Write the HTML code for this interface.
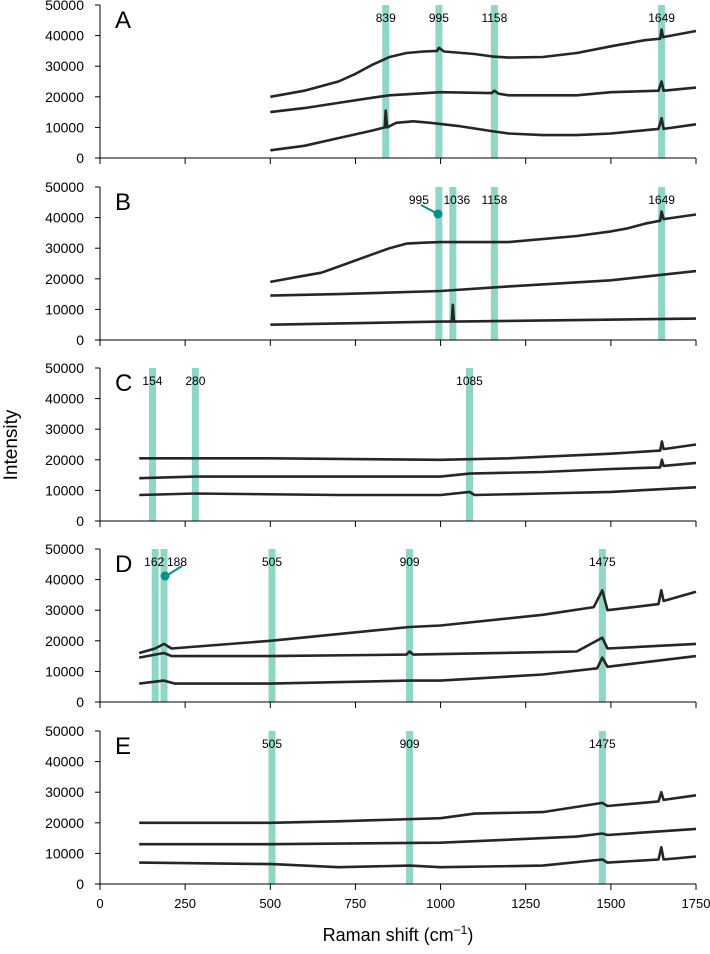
<!DOCTYPE html>
<html><head><meta charset="utf-8"><style>
body{margin:0;background:#fff}
svg text{font-family:"Liberation Sans",sans-serif;fill:#000}
</style></head><body>
<svg id="chart" width="710" height="949" xmlns="http://www.w3.org/2000/svg"></svg>
<script>
const xTicks=[0,250,500,750,1000,1250,1500,1750];
const yTicks=[0,10000,20000,30000,40000,50000];
const panelLetters=["A","B","C","D","E"];
const bandsA=[839,995,1158,1649];
const bandsB=[995,1036,1158,1649];
const bandsC=[154,280,1085];
const bandsD=[162,188,505,909,1475];
const bandsE=[505,909,1475];
const A1x=[500,600,700,750,800,850,900,950,990,995,1010,1100,1150,1200,1300,1400,1500,1600,1645,1649,1653,1750];
const A1y=[20000,22000,25000,27500,30500,33000,34300,34800,35000,36000,34800,34000,33200,32800,33000,34300,36500,38500,39000,42000,39500,41500];
const A2x=[500,600,700,800,850,1000,1150,1158,1170,1200,1400,1500,1640,1649,1655,1750];
const A2y=[15000,16300,18000,19700,20500,21500,21200,22000,21000,20500,20500,21500,22000,25000,22000,23000];
const A3x=[500,600,700,800,836,839,843,870,920,970,1050,1150,1200,1300,1400,1500,1640,1649,1655,1750];
const A3y=[2500,4000,6500,9000,10000,15500,10000,11500,12000,11500,10500,8800,8000,7500,7500,8000,9500,13000,9500,11000];
const B1x=[500,600,650,700,800,850,900,950,1000,1200,1400,1500,1550,1600,1645,1649,1655,1750];
const B1y=[19000,21000,22000,24000,28000,30000,31500,31800,32000,32000,34000,35500,36500,38000,39000,42000,39500,41000];
const B2x=[500,700,1000,1200,1500,1750];
const B2y=[14500,15000,16000,17500,19500,22500];
const B3x=[500,1000,1033,1036,1039,1750];
const B3y=[5000,6000,6000,11500,6000,7000];
const C1x=[115,500,1000,1200,1500,1645,1650,1655,1750];
const C1y=[20500,20500,20000,20500,22000,23000,26000,23500,25000];
const C2x=[115,280,1000,1085,1300,1500,1645,1650,1655,1750];
const C2y=[14000,14500,14500,15500,16000,17000,17500,20000,18000,19000];
const C3x=[115,280,700,1000,1085,1100,1300,1500,1750];
const C3y=[8500,9000,8500,8500,9500,8500,9000,9500,11000];
const D1x=[115,162,188,210,500,909,1000,1300,1450,1475,1490,1640,1648,1655,1750];
const D1y=[16000,17500,19000,17500,20000,24500,25000,28500,31000,36500,30000,32000,36500,33000,36000];
const D2x=[115,162,188,210,500,900,909,920,1400,1475,1490,1750];
const D2y=[14500,15500,16000,15000,15000,15500,16500,15500,16500,21000,17500,19000];
const D3x=[115,188,220,500,909,1000,1300,1460,1475,1490,1750];
const D3y=[6000,7000,6000,6000,7000,7000,9000,11000,14500,11500,15000];
const E1x=[115,500,700,1000,1100,1300,1475,1490,1640,1648,1655,1750];
const E1y=[20000,20000,20500,21500,23000,23500,26500,25500,27000,30000,27500,29000];
const E2x=[115,500,1000,1400,1475,1490,1750];
const E2y=[13000,13000,13500,15500,16500,16000,18000];
const E3x=[115,505,700,909,1000,1300,1475,1490,1640,1648,1655,1750];
const E3y=[7000,6500,5500,6000,5500,6000,8000,7000,8000,12000,8000,9000];
const panels=[
 {bands:bandsA,traces:[[A1x,A1y],[A2x,A2y],[A3x,A3y]]},
 {bands:bandsB,traces:[[B1x,B1y],[B2x,B2y],[B3x,B3y]]},
 {bands:bandsC,traces:[[C1x,C1y],[C2x,C2y],[C3x,C3y]]},
 {bands:bandsD,traces:[[D1x,D1y],[D2x,D2y],[D3x,D3y]]},
 {bands:bandsE,traces:[[E1x,E1y],[E2x,E2y],[E3x,E3y]]}];
const tops=[5,187,368,549,731];
const PH=153;
const svg=document.getElementById('chart');
const NS='http://www.w3.org/2000/svg';
function mk(t,a,p){const e=document.createElementNS(NS,t);for(const k in a)e.setAttribute(k,a[k]);(p||svg).appendChild(e);return e;}
const xs=v=>100+v*(596/1750);
panels.forEach((p,i)=>{
 const top=tops[i];
 const ys=v=>top+PH-v*(PH/50000);
 const g=mk('g',{});
 
 
 p.bands.forEach(b=>{
  const r=mk('rect',{x:xs(b)-3.5,y:ys(50000),width:7,height:PH,fill:'#8ed6c6'},g);
  
  
 });
 p.bands.forEach(b=>{
  let lx=xs(b);
  if(i===1&&b===995){lx=xs(b)-20;}
  if(i===1&&b===1036){lx=xs(b)+4;}
  if(i===3&&b===162){lx=xs(b)-1;}
  if(i===3&&b===188){lx=xs(b)+13;}
  const t=mk('text',{x:lx,y:ys(44500),'font-size':12,'text-anchor':'middle'},g);
  t.textContent=String(b);
  
  
 });
 p.traces.forEach((tr,k)=>{
  const d=tr[0].map((x,n)=>(n?'L':'M')+xs(x).toFixed(1)+' '+ys(tr[1][n]).toFixed(1)).join(' ');
  const pa=mk('path',{d:d,fill:'none',stroke:'#262626','stroke-width':2.6,'stroke-linejoin':'round'},g);
  
  
 });
 mk('line',{x1:100,y1:top,x2:100,y2:top+PH,stroke:'#000','stroke-width':1},g);
 mk('line',{x1:100,y1:top+PH,x2:696,y2:top+PH,stroke:'#000','stroke-width':1},g);
 yTicks.forEach(v=>{
  mk('line',{x1:95,y1:ys(v),x2:100,y2:ys(v),stroke:'#000'},g);
  const t=mk('text',{x:84,y:ys(v)+5,'font-size':14,'text-anchor':'end'},g);
  t.textContent=v;
  
  
 });
 xTicks.forEach(v=>mk('line',{x1:xs(v),y1:top+PH,x2:xs(v),y2:top+PH+6,stroke:'#000'},g));
 const L=mk('text',{x:115,y:top+23,'font-size':24},g);
 L.textContent=panelLetters[i];
 
 
});
mk('line',{x1:421,y1:205,x2:438,y2:214,stroke:'#00928a','stroke-width':2});
mk('circle',{cx:438,cy:214,r:4.5,fill:'#00928a'});
mk('line',{x1:182,y1:566,x2:166,y2:576,stroke:'#00928a','stroke-width':2});
mk('circle',{cx:165,cy:576,r:4.5,fill:'#00928a'});
xTicks.forEach(v=>{
 const t=mk('text',{x:xs(v),y:908,'font-size':13,'text-anchor':'middle'});
 t.textContent=v;
 
 
});
const xt=mk('text',{x:398,y:941,'font-size':18,'text-anchor':'middle'});
xt.innerHTML='Raman shift (cm<tspan dy="-7" font-size="12">−1</tspan><tspan dy="7">)</tspan>';


const yt=mk('text',{x:0,y:0,'font-size':19,'text-anchor':'middle',transform:'translate(17,445) rotate(-90)'});
yt.textContent='Intensity';


</script>
</body></html>
